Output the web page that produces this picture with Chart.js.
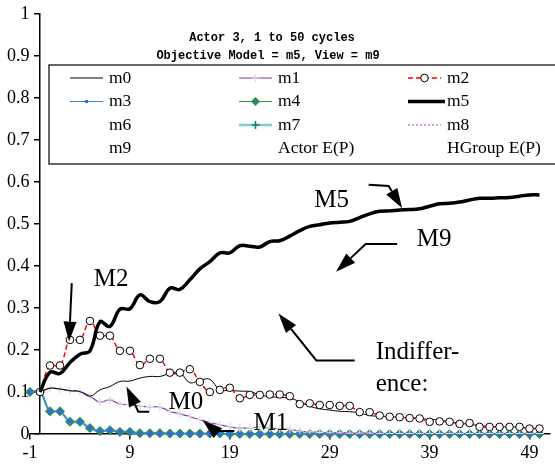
<!DOCTYPE html>
<html>
<head>
<meta charset="utf-8">
<script src="https://cdn.jsdelivr.net/npm/chart.js@4.4.1/dist/chart.umd.min.js"></script>
<style>
  html, body { margin: 0; padding: 0; background: #fff; }
</style>
</head>
<body>
<canvas id="chart" width="555" height="470"></canvas>
<script>
// cycle numbers on the x axis
const cycles = [-1, 0, 1, 2, 3, 4, 5, 6, 7, 8, 9, 10, 11, 12, 13, 14, 15, 16, 17, 18, 19, 20,
    21, 22, 23, 24, 25, 26, 27, 28, 29, 30, 31, 32, 33, 34, 35, 36, 37, 38, 39, 40,
    41, 42, 43, 44, 45, 46, 47, 48, 49, 50];
const xTickValues = [-1, 9, 19, 29, 39, 49];

const m0 = [null, 0.1, 0.109, 0.107, 0.103, 0.101, 0.09, 0.105, 0.113, 0.125, 0.126, 0.133, 0.137, 0.137,
    0.144, 0.146, 0.122, 0.128, 0.13, 0.105, 0.104, 0.102, 0.101, 0.093, 0.089, 0.087, 0.085, 0.077,
    0.066, 0.06, 0.057, 0.054, 0.053, 0.05, 0.044, 0.042, 0.041, 0.04, 0.038, 0.036, 0.035, 0.033,
    0.029, 0.026, 0.023, 0.02, 0.018, 0.017, 0.017, 0.016, 0.014, 0.013];
const m1 = [null, 0.1, 0.109, 0.107, 0.103, 0.101, 0.09, 0.076, 0.081, 0.071, 0.07, 0.066, 0.065, 0.064,
    0.054, 0.048, 0.041, 0.034, 0.027, 0.022, 0.017, 0.014, 0.015, 0.016, 0.014, 0.012, 0.011, 0.007,
    0.005, 0.004, 0.003, 0.003, 0.002, 0.002, 0.002, 0.001, 0.001, 0.001, 0.001, 0.001, 0.001, 0.001,
    0.001, 0.001, 0.001, 0.001, 0.001, 0.001, 0.001, 0.001, 0.001, 0.001];
const m2 = [null, 0.1, 0.163, 0.163, 0.224, 0.224, 0.269, 0.234, 0.234, 0.198, 0.198, 0.164, 0.179, 0.179,
    0.146, 0.146, 0.154, 0.124, 0.1, 0.105, 0.11, 0.085, 0.093, 0.093, 0.094, 0.094, 0.09, 0.071,
    0.073, 0.069, 0.069, 0.067, 0.067, 0.052, 0.052, 0.044, 0.041, 0.04, 0.038, 0.037, 0.029, 0.03,
    0.029, 0.024, 0.026, 0.017, 0.017, 0.017, 0.017, 0.017, 0.013, 0.013];
const m3 = [0.1, 0.1, 0.054, 0.054, 0.029, 0.029, 0.014, 0.007, 0.009, 0.005, 0.005, 0.002, 0.002, 0.002,
    0.001, 0.001, 0.001, 0.001, 0.001, 0.001, 0, 0, 0, 0, 0, 0, 0, 0, 0, 0, 0, 0, 0, 0, 0, 0, 0, 0,
    0, 0, 0, 0, 0, 0, 0, 0, 0, 0, 0, 0, 0, 0];
const m4 = [0.1, 0.1, 0.054, 0.054, 0.029, 0.029, 0.014, 0.007, 0.009, 0.005, 0.005, 0.002, 0.002, 0.002,
    0.001, 0.001, 0.001, 0.001, 0.001, 0.001, 0, 0, 0, 0, 0, 0, 0, 0, 0, 0, 0, 0, 0, 0, 0, 0, 0, 0,
    0, 0, 0, 0, 0, 0, 0, 0, 0, 0, 0, 0, 0, 0];
const m5 = [null, 0.1, 0.147, 0.144, 0.17, 0.19, 0.198, 0.267, 0.256, 0.297, 0.298, 0.331, 0.315, 0.315,
    0.347, 0.344, 0.367, 0.393, 0.41, 0.431, 0.431, 0.448, 0.447, 0.445, 0.458, 0.46, 0.471, 0.484,
    0.494, 0.498, 0.502, 0.504, 0.506, 0.515, 0.524, 0.53, 0.531, 0.533, 0.534, 0.536, 0.542, 0.548,
    0.549, 0.552, 0.557, 0.561, 0.561, 0.562, 0.563, 0.566, 0.569, 0.569];
const m6 = [];
const m7 = [0.1, 0.1, 0.054, 0.054, 0.029, 0.029, 0.014, 0.007, 0.009, 0.005, 0.005, 0.002, 0.002, 0.002,
    0.001, 0.001, 0.001, 0.001, 0.001, 0.001, 0, 0, 0, 0, 0, 0, 0, 0, 0, 0, 0, 0, 0, 0, 0, 0, 0, 0,
    0, 0, 0, 0, 0, 0, 0, 0, 0, 0, 0, 0, 0, 0];
const m8 = [];
const m9 = [];
const actorEP = [];
const hgroupEP = [];

const titleLines = ['Actor 3, 1 to 50 cycles', 'Objective Model = m5, View = m9'];

// call-outs drawn on the plot: text anchors and arrow paths in data units (cycle, value)
const notes = [
    { text: 'M5', at: [29.2, 0.557], path: [[32.9, 0.593], [34.9, 0.59], [36.25, 0.537]] },
    { text: 'M9', at: [39.45, 0.464], path: [[35.75, 0.452], [32.6, 0.452], [29.64, 0.386]] },
    { text: 'M2', at: [7.12, 0.369], path: [[3.18, 0.359], [2.91, 0.22]] },
    { text: 'M0', at: [14.6, 0.074], path: [[10.93, 0.053], [9.84, 0.053], [8.65, 0.113]] },
    { text: 'M1', at: [23.1, 0.024], path: [[19.45, 0.007], [17.56, 0.007], [16.28, 0.033]] },
    { text: 'Indiffer-\nence:', at: [33.6, 0.193], left: true, path: [[31.5, 0.175], [27.66, 0.175], [23.87, 0.287]] }
];

const serif = "'Liberation Serif', 'Times New Roman', serif";

function toXY(arr) {
    return arr.map((v, i) => ({ x: cycles[i], y: v }));
}

function series(label, data, style) {
    return Object.assign({
        label: label,
        data: toXY(data),
        borderColor: '#000',
        backgroundColor: '#000',
        borderWidth: 1,
        pointRadius: 0,
        tension: 0.4,
        fill: false,
        order: 8
    }, style);
}

const datasets = [
    series('m0', m0, { borderColor: '#000', borderWidth: 1, order: 2 }),
    series('m1', m1, { borderColor: '#7a3a9a', borderWidth: 1.2, pointStyle: 'cross', pointRadius: 4,
        pointBorderColor: '#ddd5e4', pointBorderWidth: 1.2, order: 3 }),
    series('m2', m2, { borderColor: '#ff0000', borderWidth: 1.5, borderDash: [5, 3], pointStyle: 'circle',
        pointRadius: 3.8, pointBackgroundColor: '#fff', pointBorderColor: '#000', pointBorderWidth: 1, order: 1 }),
    series('m3', m3, { borderColor: '#3a80d0', borderWidth: 1.2, pointStyle: 'rect', pointRadius: 1.5,
        pointBackgroundColor: '#3366ff', pointBorderColor: '#3366ff', order: 4, clip: false }),
    series('m4', m4, { borderColor: '#3f8a3f', borderWidth: 1, pointStyle: 'rectRot', pointRadius: 4.5,
        pointBackgroundColor: '#2e8a5a', pointBorderColor: '#2e8a5a', order: 5, clip: false }),
    series('m5', m5, { borderColor: '#000', borderWidth: 3.5, order: 0 }),
    series('m6', m6, { borderColor: 'transparent', borderWidth: 0 }),
    series('m7', m7, { borderColor: '#80cccc', borderWidth: 2.5, pointStyle: 'cross', pointRadius: 4,
        pointBorderColor: '#008080', pointBorderWidth: 1.5, order: 6, clip: false }),
    series('m8', m8, { borderColor: '#b040c0', borderWidth: 1, borderDash: [2, 2], order: 7 }),
    series('m9', m9, { borderColor: 'transparent', borderWidth: 0 }),
    series('Actor E(P)', actorEP, { borderColor: 'transparent', borderWidth: 0 }),
    series('HGroup E(P)', hgroupEP, { borderColor: 'transparent', borderWidth: 0 })
];

function drawMarker(ctx, style, x, y, r) {
    ctx.beginPath();
    if (style === 'circle') {
        ctx.arc(x, y, r, 0, Math.PI * 2);
        ctx.fill();
        ctx.stroke();
    } else if (style === 'rect') {
        ctx.rect(x - r, y - r, 2 * r, 2 * r);
        ctx.fill();
    } else if (style === 'rectRot') {
        ctx.moveTo(x, y - r);
        ctx.lineTo(x + r, y);
        ctx.lineTo(x, y + r);
        ctx.lineTo(x - r, y);
        ctx.closePath();
        ctx.fill();
    } else if (style === 'cross') {
        ctx.moveTo(x - r, y);
        ctx.lineTo(x + r, y);
        ctx.moveTo(x, y - r);
        ctx.lineTo(x, y + r);
        ctx.stroke();
    }
}

// boxed three-column legend and two-line title, both sitting inside the plot area
const legendBox = {
    id: 'legendBox',
    afterDraw(chart) {
        const ctx = chart.ctx;
        ctx.save();
        ctx.fillStyle = '#000';
        ctx.font = "bold 12px 'Liberation Mono', 'Courier New', monospace";
        ctx.textBaseline = 'middle';
        ctx.textAlign = 'center';
        ctx.fillText(titleLines[0], 272, 38);
        ctx.fillText(titleLines[1], 268, 56);

        ctx.fillStyle = '#fff';
        ctx.fillRect(49, 65, 510, 99);
        ctx.strokeStyle = '#333';
        ctx.lineWidth = 1.5;
        ctx.strokeRect(49, 65, 510, 99);

        const colX = [70, 239, 408];
        const rowY = [78, 101.5, 125, 148.5];
        chart.data.datasets.forEach((ds, i) => {
            const col = i % 3;
            const row = Math.floor(i / 3);
            const x0 = colX[col];
            const x1 = x0 + (ds.borderWidth > 3 ? 37 : 33);
            const y = rowY[row];
            if (ds.borderWidth > 0 && ds.borderColor !== 'transparent') {
                ctx.save();
                ctx.strokeStyle = ds.borderColor;
                ctx.lineWidth = ds.borderWidth;
                ctx.setLineDash(ds.borderDash || []);
                ctx.beginPath();
                ctx.moveTo(x0, y);
                ctx.lineTo(x1, y);
                ctx.stroke();
                ctx.restore();
            }
            if (ds.pointRadius > 0) {
                ctx.save();
                ctx.fillStyle = ds.pointBackgroundColor || ds.borderColor;
                ctx.strokeStyle = ds.pointBorderColor || ds.borderColor;
                ctx.lineWidth = ds.pointBorderWidth || 1;
                drawMarker(ctx, ds.pointStyle, (x0 + x1) / 2, y, ds.pointRadius);
                ctx.restore();
            }
            ctx.fillStyle = '#000';
            ctx.font = '17.5px ' + serif;
            ctx.textAlign = 'left';
            ctx.textBaseline = 'middle';
            ctx.fillText(ds.label, colX[col] + 39, y);
        });
        ctx.restore();
    }
};

const callouts = {
    id: 'callouts',
    afterDraw(chart) {
        const ctx = chart.ctx;
        const xs = chart.scales.x;
        const ys = chart.scales.y;
        const px = p => [xs.getPixelForValue(p[0]), ys.getPixelForValue(p[1])];
        ctx.save();
        ctx.fillStyle = '#000';
        ctx.strokeStyle = '#000';
        ctx.font = '25px ' + serif;
        ctx.textBaseline = 'middle';
        notes.forEach(n => {
            const [tx, ty] = px(n.at);
            ctx.textAlign = n.left ? 'left' : 'center';
            n.text.split('\n').forEach((line, k) => ctx.fillText(line, tx, ty + k * 32));

            const pts = n.path.map(px);
            const tip = pts[pts.length - 1];
            const prev = pts[pts.length - 2];
            const ang = Math.atan2(tip[1] - prev[1], tip[0] - prev[0]);
            const len = 20, half = 6.5;
            const bx = tip[0] - Math.cos(ang) * len;
            const by = tip[1] - Math.sin(ang) * len;
            ctx.lineWidth = 2;
            ctx.beginPath();
            ctx.moveTo(pts[0][0], pts[0][1]);
            for (let k = 1; k < pts.length - 1; k++) ctx.lineTo(pts[k][0], pts[k][1]);
            ctx.lineTo(bx, by);
            ctx.stroke();
            ctx.beginPath();
            ctx.moveTo(tip[0], tip[1]);
            ctx.lineTo(bx + Math.sin(ang) * half, by - Math.cos(ang) * half);
            ctx.lineTo(bx - Math.sin(ang) * half, by + Math.cos(ang) * half);
            ctx.closePath();
            ctx.fill();
        });
        ctx.restore();
    }
};

new Chart(document.getElementById('chart'), {
    type: 'line',
    data: { datasets: datasets },
    options: {
        responsive: false,
        animation: false,
        devicePixelRatio: 1,
        layout: { padding: { left: 30, right: 0, top: 13, bottom: 36 } },
        plugins: {
            legend: { display: false },
            title: { display: false },
            tooltip: { enabled: false }
        },
        scales: {
            x: {
                type: 'linear',
                position: { y: 0 },
                min: -1,
                max: 51,
                afterBuildTicks: scale => { scale.ticks = xTickValues.map(v => ({ value: v })); },
                grid: { drawOnChartArea: false, drawTicks: true, tickLength: 5, color: '#000', lineWidth: 1.5 },
                border: { display: true, color: '#000', width: 1.5 },
                ticks: { color: '#000', font: { family: serif, size: 18 }, padding: 3, maxRotation: 0 }
            },
            y: {
                type: 'linear',
                position: { x: 0 },
                min: 0,
                max: 1,
                ticks: {
                    stepSize: 0.1,
                    color: '#000',
                    font: { family: serif, size: 18 },
                    // labels sit right-aligned on the axis line, so keep a gap after the number
                    callback: v => String(Number(v.toFixed(1))) + '\u2002\u200a'
                },
                grid: { drawOnChartArea: false, drawTicks: true, tickLength: 5, color: '#000', lineWidth: 1.5 },
                border: { display: true, color: '#000', width: 1.5 }
            }
        }
    },
    plugins: [legendBox, callouts]
});
</script>
</body>
</html>
